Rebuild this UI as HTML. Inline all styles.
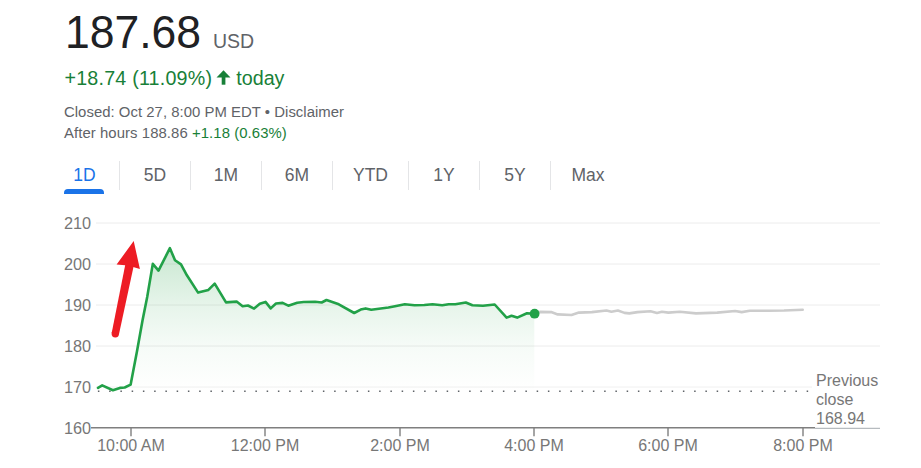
<!DOCTYPE html>
<html>
<head>
<meta charset="utf-8">
<style>
html,body{margin:0;padding:0;background:#fff;}
body{width:921px;height:468px;position:relative;overflow:hidden;font-family:"Liberation Sans",sans-serif;}
.t{position:absolute;white-space:nowrap;line-height:1;}
#price{left:65px;top:10.5px;font-size:44.5px;color:#202124;transform:scaleY(1.033);transform-origin:0 37.3px;}
#usd{left:213px;top:32px;font-size:19.5px;color:#5f6368;}
#chg{left:64.5px;top:68.5px;font-size:19.7px;letter-spacing:0.2px;color:#188038;}
#closed{left:64px;top:104.5px;font-size:14.9px;letter-spacing:0.03px;color:#5f6368;}
#after{left:64px;top:125.8px;font-size:14.9px;letter-spacing:0.07px;color:#5f6368;}
#after .g{color:#188038;}
.tab{position:absolute;top:166.7px;font-size:17.5px;color:#5f6368;line-height:1;transform:translateX(-50%);white-space:nowrap;}
.sep{position:absolute;top:161px;width:1px;height:29px;background:#e4e5e7;}
#ul{position:absolute;left:64px;top:189px;width:40px;height:4.5px;background:#1a73e8;border-radius:4px 4px 0 0;}
svg{position:absolute;left:0;top:0;}
svg text{font-family:"Liberation Sans",sans-serif;fill:#777;}
</style>
</head>
<body>
<div class="t" id="price">187.68</div>
<div class="t" id="usd">USD</div>
<div class="t" id="chg">+18.74 (11.09%)</div>
<div class="t" id="today" style="left:236.3px;top:68.5px;font-size:19.7px;color:#188038;">today</div>
<div class="t" id="closed">Closed: Oct 27, 8:00 PM EDT • Disclaimer</div>
<div class="t" id="after">After hours 188.86 <span class="g">+1.18 (0.63%)</span></div>

<div class="tab" style="left:84.5px;color:#1a73e8">1D</div>
<div class="tab" style="left:155px">5D</div>
<div class="tab" style="left:226px">1M</div>
<div class="tab" style="left:297px">6M</div>
<div class="tab" style="left:370.5px">YTD</div>
<div class="tab" style="left:444px">1Y</div>
<div class="tab" style="left:515px">5Y</div>
<div class="tab" style="left:588px">Max</div>
<div class="sep" style="left:118.7px"></div>
<div class="sep" style="left:189.8px"></div>
<div class="sep" style="left:260.9px"></div>
<div class="sep" style="left:332.1px"></div>
<div class="sep" style="left:408px"></div>
<div class="sep" style="left:479.1px"></div>
<div class="sep" style="left:550.2px"></div>
<div id="ul"></div>

<svg width="921" height="468" viewBox="0 0 921 468">
<defs>
<linearGradient id="gf" x1="0" y1="248" x2="0" y2="392" gradientUnits="userSpaceOnUse">
<stop offset="0" stop-color="#34a853" stop-opacity="0.27"/>
<stop offset="0.4" stop-color="#34a853" stop-opacity="0.12"/>
<stop offset="0.68" stop-color="#34a853" stop-opacity="0.045"/>
<stop offset="1" stop-color="#34a853" stop-opacity="0"/>
</linearGradient>
</defs>
<!-- gridlines -->
<g stroke="#ececec" stroke-width="1">
<line x1="96" y1="223" x2="880" y2="223"/>
<line x1="96" y1="264" x2="880" y2="264"/>
<line x1="96" y1="305" x2="880" y2="305"/>
<line x1="96" y1="346" x2="880" y2="346"/>
<line x1="96" y1="387" x2="812" y2="387" stroke="#f0f0f0"/>
</g>
<!-- y labels -->
<g font-size="16.3" text-anchor="start">
<text x="64" y="229">210</text>
<text x="64" y="270">200</text>
<text x="64" y="311">190</text>
<text x="64" y="352">180</text>
<text x="64" y="393">170</text>
<text x="64" y="434">160</text>
</g>
<!-- area -->
<path id="area" fill="url(#gf)" d="M98,428 L98,387.8 L102.2,385.4 L112.9,390.3 L119.9,387.9 L124.7,387.5 L130.6,384.7 L137,351.3 L142.6,320 L147.2,297 L152.8,263.9 L158.5,270.6 L169.9,248.2 L175,260.2 L181,264.4 L186.9,275.3 L198.1,292.6 L208.4,289.9 L214.7,283.6 L226,302.4 L236.6,301.6 L242.6,306.3 L248,305.5 L254.1,308.6 L259.8,303.8 L265.5,301.9 L270.7,308.4 L276,303.5 L282.6,302.9 L288.3,305.7 L297.2,302.7 L303.7,302 L315.1,301.8 L321.7,302.5 L326.5,300 L338.8,304.3 L354.2,313 L360.7,309.6 L365.6,308.4 L371.3,309.7 L388.4,307.5 L395,306.2 L404.8,304.2 L414.5,305.3 L424.3,305 L432.5,304.2 L442.2,305.3 L448.7,304.3 L455.3,304.2 L465.8,302.5 L472.4,305.3 L483,305.8 L494.7,304.5 L506.6,317.6 L511.5,315.7 L517.2,317.6 L527,313.2 L534.3,313.8 L534.3,428 Z"/>
<!-- prev close dotted -->
<line x1="97.9" y1="391.2" x2="810" y2="391.2" stroke="#5f6368" stroke-width="1.5" stroke-dasharray="1.5 9.75"/>
<!-- x axis -->
<line x1="91" y1="427.7" x2="815" y2="427.7" stroke="#7f7f7f" stroke-width="1.5"/><line x1="815" y1="428.3" x2="880" y2="428.3" stroke="#9aa0a6" stroke-width="0.9"/>
<g stroke="#7f7f7f" stroke-width="1.4">
<line x1="131" y1="428" x2="131" y2="436.3"/>
<line x1="265" y1="428" x2="265" y2="436.3"/>
<line x1="400" y1="428" x2="400" y2="436.3"/>
<line x1="534" y1="428" x2="534" y2="436.3"/>
<line x1="668" y1="428" x2="668" y2="436.3"/>
<line x1="803" y1="428" x2="803" y2="436.3"/>
</g>
<g font-size="16" text-anchor="middle">
<text x="131" y="451">10:00 AM</text>
<text x="265" y="451">12:00 PM</text>
<text x="400" y="451">2:00 PM</text>
<text x="534" y="451">4:00 PM</text>
<text x="668" y="451">6:00 PM</text>
<text x="803" y="451">8:00 PM</text>
</g>
<g font-size="16" text-anchor="start">
<text x="816" y="386">Previous</text>
<text x="816" y="405">close</text>
<text x="816" y="424">168.94</text>
</g>
<!-- after hours line -->
<polyline id="ah" fill="none" stroke="#cccccc" stroke-width="2.6" stroke-linejoin="round" stroke-linecap="round" points="534.3,313.8 539.8,311.9 551.2,312.1 557.7,314.4 571.5,315 578.9,312.6 591.9,312.1 606.5,310.5 611.4,311.8 617.9,310.5 624.5,312.9 629.3,313.4 637.5,312.1 650.5,311.3 657,312.9 661.9,311.8 668.4,312.6 679.8,311.8 696,313.4 717.2,312.6 735.1,311 741.7,312.1 749.8,310.8 767.7,310.8 784,310.5 802.7,309.7"/>
<!-- main line -->
<polyline id="ml" fill="none" stroke="#22a148" stroke-width="2.6" stroke-linejoin="round" stroke-linecap="round" points="98,387.8 102.2,385.4 112.9,390.3 119.9,387.9 124.7,387.5 130.6,384.7 137,351.3 142.6,320 147.2,297 152.8,263.9 158.5,270.6 169.9,248.2 175,260.2 181,264.4 186.9,275.3 198.1,292.6 208.4,289.9 214.7,283.6 226,302.4 236.6,301.6 242.6,306.3 248,305.5 254.1,308.6 259.8,303.8 265.5,301.9 270.7,308.4 276,303.5 282.6,302.9 288.3,305.7 297.2,302.7 303.7,302 315.1,301.8 321.7,302.5 326.5,300 338.8,304.3 354.2,313 360.7,309.6 365.6,308.4 371.3,309.7 388.4,307.5 395,306.2 404.8,304.2 414.5,305.3 424.3,305 432.5,304.2 442.2,305.3 448.7,304.3 455.3,304.2 465.8,302.5 472.4,305.3 483,305.8 494.7,304.5 506.6,317.6 511.5,315.7 517.2,317.6 527,313.2 534.3,313.8"/>
<circle cx="534.6" cy="313.7" r="4.9" fill="#22a148"/>
<g fill="#188038"><polygon points="223.5,70.3 216.5,77.6 230.5,77.6"/><rect x="221.7" y="77" width="3.7" height="7.7"/></g>
<!-- red arrow -->
<polygon points="111.68,333.05 125.6,262.9 134.0,264.6 118.92,334.55" fill="#ed1c24"/><circle cx="115.3" cy="333.8" r="3.7" fill="#ed1c24"/>
<polygon points="133.7,241 116.6,264.5 128,265.6 139.9,269 " fill="#ed1c24"/>
</svg>
</body>
</html>
